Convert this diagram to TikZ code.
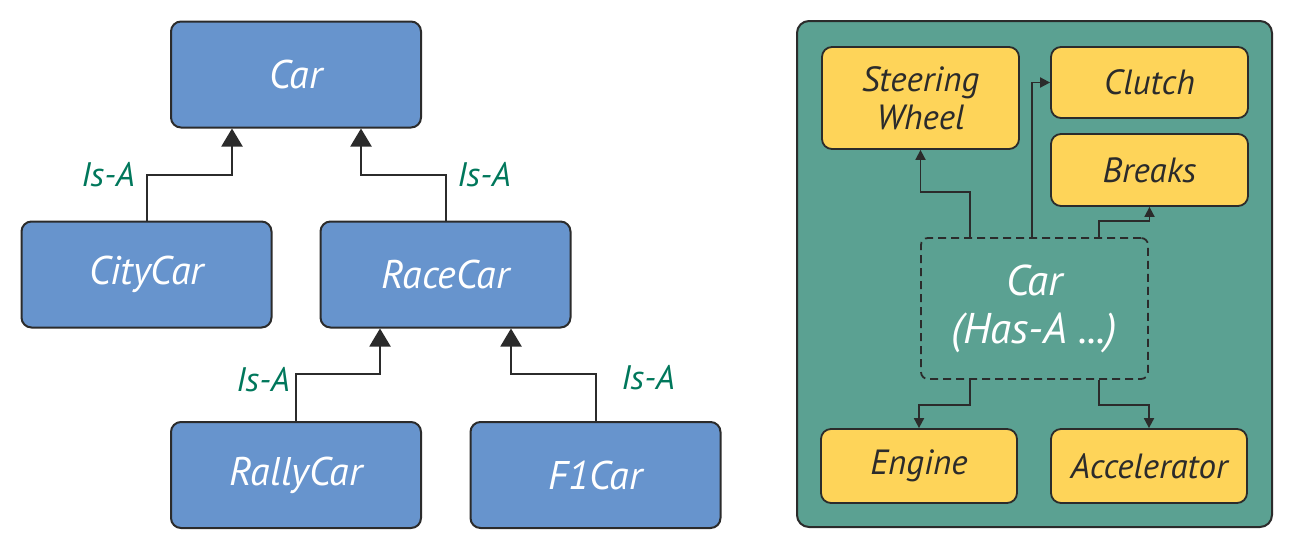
\documentclass[tikz,border=0pt]{standalone}
\usepackage{fontspec}
\setmainfont{PT Sans}
\usetikzlibrary{arrows.meta}
\definecolor{boxblue}{HTML}{6794CD}
\definecolor{panelgreen}{HTML}{5BA192}
\definecolor{partyellow}{HTML}{FED459}
\definecolor{isagreen}{HTML}{00775B}
\definecolor{edge}{HTML}{2B2B2B}
\begin{document}
\begin{tikzpicture}[x=1pt,y=-1pt,
 bluebox/.style={draw=edge, line width=2pt, fill=boxblue, rounded corners=10pt, minimum width=250pt, minimum height=106pt, text=white, font=\itshape\fontsize{40}{46}\selectfont},
 part/.style={draw=edge, line width=1.8pt, fill=partyellow, rounded corners=10pt, text=edge, font=\itshape\fontsize{35}{38}\selectfont, align=center},
 panelbox/.style={draw=edge, line width=2pt, fill=panelgreen, rounded corners=12pt},
 hasbox/.style={draw=edge, line width=1.8pt, dashed, dash pattern=on 8pt off 5pt, rounded corners=7pt, text=white, align=center, font=\itshape\fontsize{43}{48}\selectfont},
 isa/.style={draw=edge, line width=2pt, -{Triangle[length=18pt,width=21pt]}},
 has/.style={draw=edge, line width=1.8pt, -{Triangle[length=10pt,width=10pt]}},
 lbl/.style={text=isagreen, font=\itshape\fontsize{34}{38}\selectfont}]
\useasboundingbox (0,0) rectangle (1293,550);
% left: inheritance
\node[bluebox] (car) at (296,74.5) {Car};
\node[bluebox] (citycar) at (146.5,274.5) {CityCar};
\node[bluebox] (racecar) at (445.5,274.5) {RaceCar};
\node[bluebox] (rallycar) at (296,475) {RallyCar};
\node[bluebox] (f1car) at (595.5,475) {F1Car};
\draw[isa] (citycar.north) -- ++(0,-46) coordinate (c1) -| ([xshift=-64pt]car.south);
\draw[isa] (racecar.north) -- ++(0,-46) coordinate (c2) -| ([xshift=65pt]car.south);
\draw[isa] (rallycar.north) -- ++(0,-47) coordinate (c3) -| ([xshift=-65.5pt]racecar.south);
\draw[isa] (f1car.north) -- ++(0,-47) coordinate (c4) -| ([xshift=65.5pt]racecar.south);
\node[lbl] (l1) at (108,175) {Is-A};
\node[lbl] (l2) at (484,175) {Is-A};
\node[lbl] (l3) at (263,380) {Is-A};
\node[lbl] (l4) at (648,378) {Is-A};
% right: composition
\node[panelbox, minimum width=475pt, minimum height=506pt] (panel) at (1034.5,274) {};
\node[hasbox, minimum width=227pt, minimum height=141pt] (hascar) at (1034.5,308.5) {Car\\(Has-A ...)};
\node[part, minimum width=197pt, minimum height=102pt] (steering) at (920.5,98) {Steering\\Wheel};
\node[part, minimum width=197pt, minimum height=71pt] (clutch) at (1149.5,82.5) {Clutch};
\node[part, minimum width=197pt, minimum height=72pt] (breaks) at (1149.5,170) {Breaks};
\node[part, minimum width=196pt, minimum height=74pt] (engine) at (919,466) {Engine};
\node[part, minimum width=196pt, minimum height=74pt] (accel) at (1149,466) {Accelerator};
\draw[has] ([xshift=-64.5pt]hascar.north) -- ++(0,-45) -| (steering.south);
\draw[has] ([xshift=-2.5pt]hascar.north) |- (clutch.west);
\draw[has] ([xshift=64.5pt]hascar.north) -- ++(0,-16) -| (breaks.south);
\draw[has] ([xshift=-64.5pt]hascar.south) -- ++(0,25) -| (engine.north);
\draw[has] ([xshift=64.5pt]hascar.south) -- ++(0,25) -| (accel.north);
\end{tikzpicture}
\end{document}
